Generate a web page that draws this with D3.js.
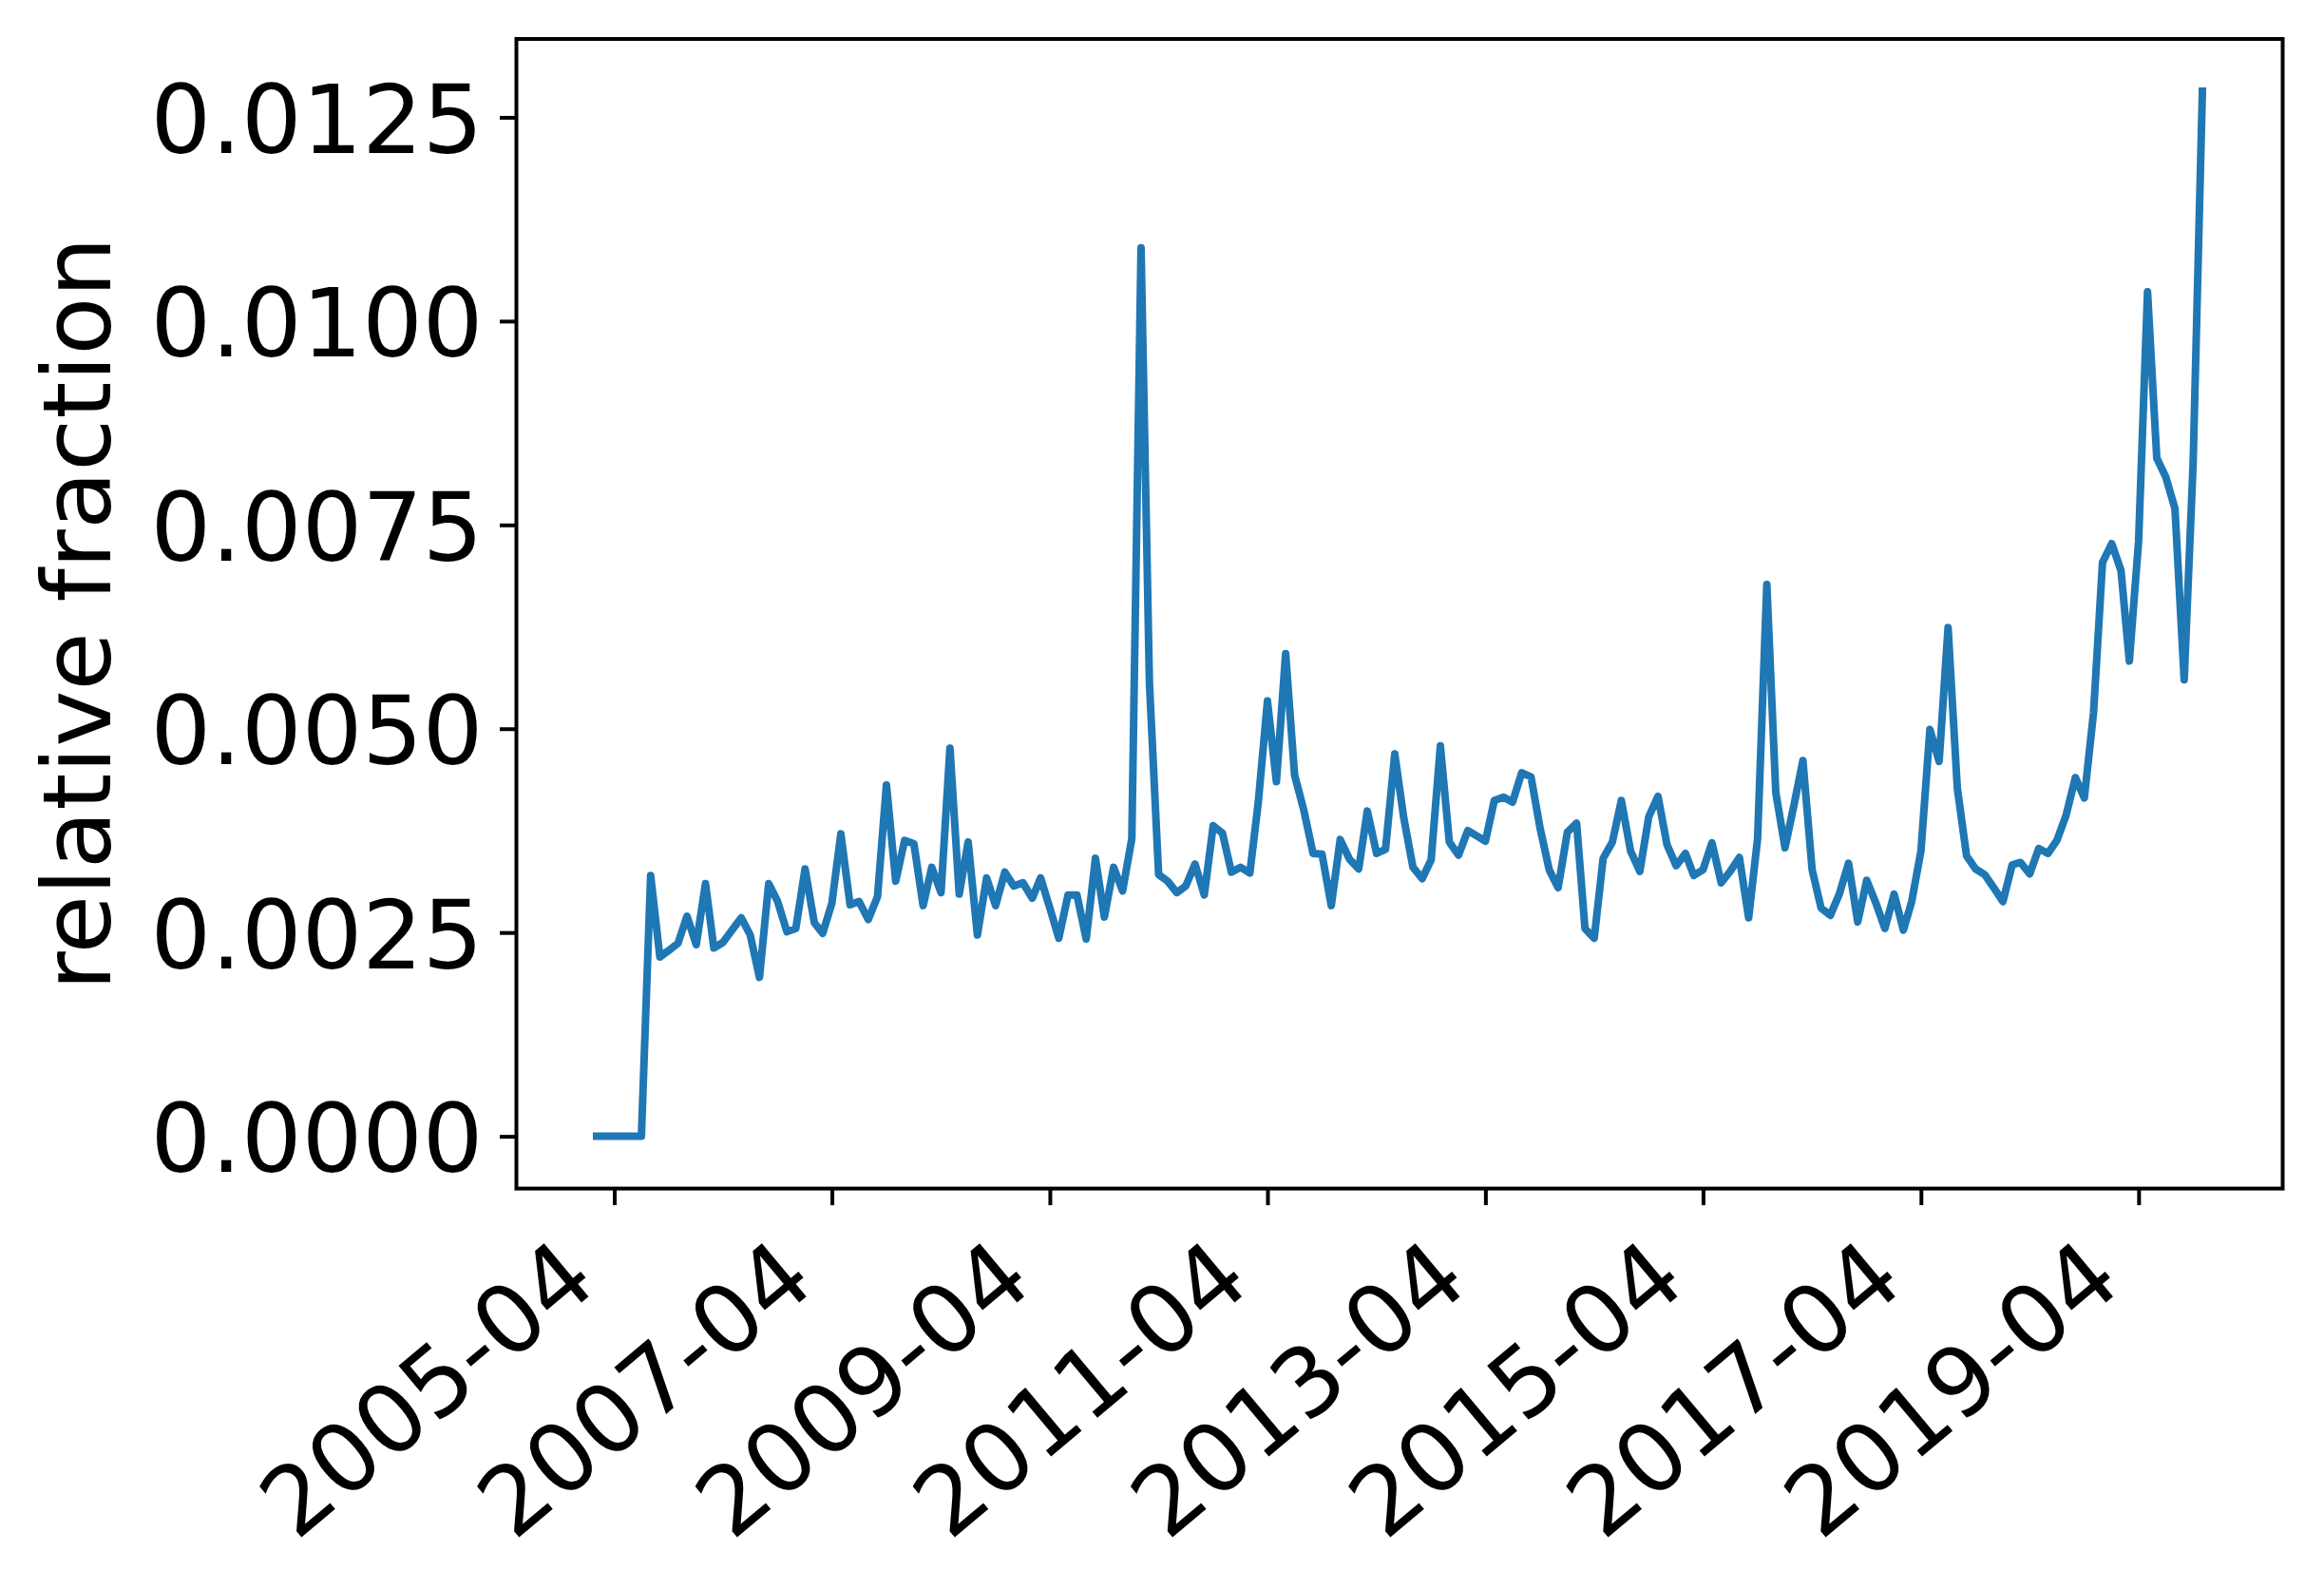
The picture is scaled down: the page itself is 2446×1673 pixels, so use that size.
<!DOCTYPE html>
<html><head><meta charset="utf-8">
<script src="https://cdn.jsdelivr.net/npm/d3@7"></script>
<style>body{margin:0;background:#fff}svg{display:block}</style>
</head><body>
<svg id="chart" width="2446" height="1673"></svg>
<script>
// ---- data (monthly values, starting month below) ----
const startMonth = "2005-02";
const values = [
  0, 0, 0, 0, 0, 0, 0.00320, 0.00220, 0.00228, 0.00237,
  0.00270, 0.00235, 0.00310, 0.00231, 0.00238, 0.00253, 0.00268, 0.00247, 0.00195, 0.00310,
  0.00288, 0.00251, 0.00255, 0.00328, 0.00262, 0.00249, 0.00286, 0.00371, 0.00284, 0.00288,
  0.00266, 0.00294, 0.00431, 0.00313, 0.00363, 0.00359, 0.00283, 0.00330, 0.00299, 0.00476,
  0.00297, 0.00361, 0.00247, 0.00317, 0.00283, 0.00324, 0.00307, 0.00311, 0.00292, 0.00317,
  0.00280, 0.00243, 0.00296, 0.00296, 0.00242, 0.00341, 0.00269, 0.00330, 0.00301, 0.00365,
  0.01090, 0.00557, 0.00321, 0.00313, 0.00299, 0.00307, 0.00334, 0.00296, 0.00381, 0.00372,
  0.00324, 0.00330, 0.00323, 0.00409, 0.00534, 0.00435, 0.00592, 0.00443, 0.00400, 0.00347,
  0.00346, 0.00283, 0.00364, 0.00340, 0.00328, 0.00399, 0.00347, 0.00352, 0.00469, 0.00391,
  0.00330, 0.00316, 0.00339, 0.00479, 0.00361, 0.00345, 0.00375, 0.00369, 0.00362, 0.00412,
  0.00416, 0.00410, 0.00446, 0.00441, 0.00379, 0.00327, 0.00305, 0.00373, 0.00384, 0.00255,
  0.00243, 0.00341, 0.00361, 0.00412, 0.00350, 0.00325, 0.00392, 0.00417, 0.00358, 0.00332,
  0.00347, 0.00320, 0.00327, 0.00360, 0.00311, 0.00325, 0.00342, 0.00268, 0.00365, 0.00677,
  0.00422, 0.00354, 0.00408, 0.00461, 0.00327, 0.00280, 0.00271, 0.00297, 0.00335, 0.00263,
  0.00314, 0.00286, 0.00255, 0.00297, 0.00253, 0.00288, 0.00350, 0.00499, 0.00460, 0.00624,
  0.00427, 0.00344, 0.00328, 0.00321, 0.00305, 0.00288, 0.00333, 0.00336, 0.00322, 0.00353,
  0.00347, 0.00363, 0.00394, 0.00440, 0.00415, 0.00520, 0.00704, 0.00727, 0.00694, 0.00583,
  0.00730, 0.01036, 0.00832, 0.00809, 0.00770, 0.00560, 0.00826, 0.01282
];
const xTickLabels = ["2005-04","2007-04","2009-04","2011-04","2013-04","2015-04","2017-04","2019-04"];
const yTickValues = [0, 0.0025, 0.0050, 0.0075, 0.0100, 0.0125];
const yLabelText = "relative fraction";

// ---- layout ----
const W = 2446, H = 1673;
const plot = {left: 543.5, right: 2402.5, top: 41, bottom: 1250.6};
const FONT = "'DejaVu Sans', sans-serif";
const FS = 100;
const lineColor = "#1f77b4";
const spineW = 4, tickLen = 17.5, pad = 17.5;

const parseMonth = d3.utcParse("%Y-%m");
const t0 = parseMonth(startMonth);
const data = values.map((v, i) => ({date: d3.utcMonth.offset(t0, i), value: v}));

const [dmin, dmax] = d3.extent(data, d => d.date);
const span = dmax - dmin;
const x = d3.scaleUtc()
  .domain([new Date(+dmin - 0.05 * span), new Date(+dmax + 0.05 * span)])
  .range([plot.left, plot.right]);

const [vmin, vmax] = d3.extent(values);
const vr = vmax - vmin;
const y = d3.scaleLinear()
  .domain([vmin - 0.05 * vr, vmax + 0.05 * vr])
  .range([plot.bottom, plot.top]);

const svg = d3.select("#chart");
svg.append("rect").attr("width", W).attr("height", H).attr("fill", "#fff");

// line
const line = d3.line().x(d => x(d.date)).y(d => y(d.value));
svg.append("path")
  .datum(data)
  .attr("d", line)
  .attr("fill", "none")
  .attr("stroke", lineColor)
  .attr("stroke-width", 8)
  .attr("stroke-linejoin", "round")
  .attr("stroke-linecap", "square");

// spines
svg.append("rect")
  .attr("x", plot.left).attr("y", plot.top)
  .attr("width", plot.right - plot.left).attr("height", plot.bottom - plot.top)
  .attr("fill", "none").attr("stroke", "#000").attr("stroke-width", spineW);

// y axis
const yAxis = d3.axisLeft(y)
  .tickValues(yTickValues)
  .tickFormat(d3.format(".4f"))
  .tickSize(tickLen)
  .tickPadding(pad);
const gy = svg.append("g").attr("transform", `translate(${plot.left},0)`).call(yAxis);
gy.select(".domain").remove();
gy.selectAll(".tick line").attr("stroke", "#000").attr("stroke-width", spineW);
gy.selectAll(".tick text")
  .attr("font-family", FONT).attr("font-size", FS).attr("fill", "#000")
  .attr("dy", "0.37em");

// x axis (labels rotated 40 degrees, right-aligned under each tick)
const xTickDates = xTickLabels.map(s => parseMonth(s));
const xAxis = d3.axisBottom(x)
  .tickValues(xTickDates)
  .tickFormat((d, i) => xTickLabels[i])
  .tickSize(tickLen)
  .tickPadding(pad);
const gx = svg.append("g").attr("transform", `translate(0,${plot.bottom})`).call(xAxis);
gx.select(".domain").remove();
gx.selectAll(".tick line").attr("stroke", "#000").attr("stroke-width", spineW);
gx.selectAll(".tick text")
  .attr("font-family", FONT).attr("font-size", FS).attr("fill", "#000")
  .attr("text-anchor", "end")
  .attr("x", 0).attr("y", 0).attr("dy", 0)
  .attr("transform", "translate(-15.2,103.2) rotate(-40)");

// y label
svg.append("text")
  .attr("transform", `translate(116,${(plot.top + plot.bottom) / 2}) rotate(-90)`)
  .attr("text-anchor", "middle")
  .attr("font-family", FONT).attr("font-size", FS).attr("fill", "#000")
  .text(yLabelText);
</script>
</body></html>
